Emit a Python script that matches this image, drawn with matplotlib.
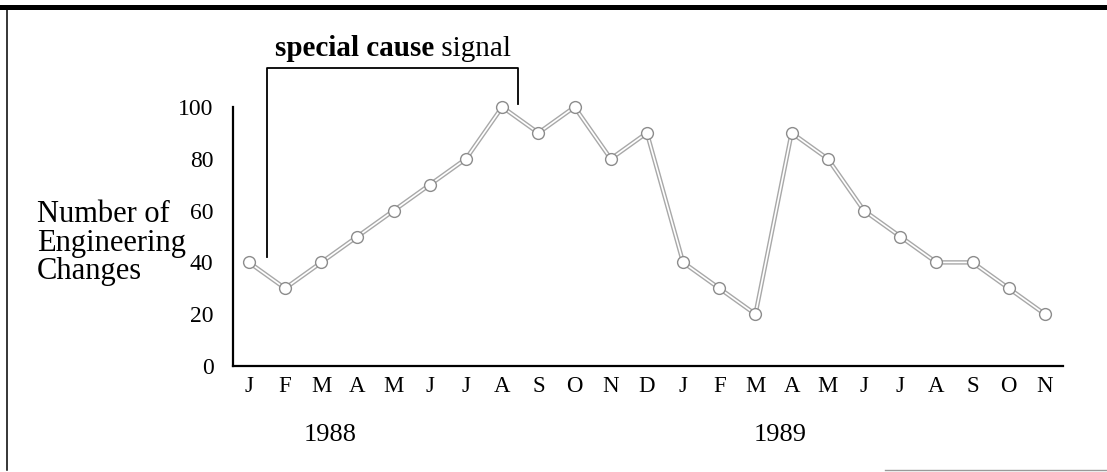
import matplotlib.pyplot as plt
from matplotlib.lines import Line2D

plt.rcParams['font.family'] = ['Liberation Serif', 'DejaVu Serif']

# monthly counts of engineering changes, Jan 1988 .. Nov 1989
months = ['J', 'F', 'M', 'A', 'M', 'J', 'J', 'A', 'S', 'O', 'N', 'D',
          'J', 'F', 'M', 'A', 'M', 'J', 'J', 'A', 'S', 'O', 'N']
changes = [40, 30, 40, 50, 60, 70, 80, 100, 90, 100, 80, 90,
           40, 30, 20, 90, 80, 60, 50, 40, 40, 30, 20]
years = ['1988', '1989']
yticks = [0, 20, 40, 60, 80, 100]

W, H = 1107, 472
fig = plt.figure(figsize=(W / 100, H / 100), dpi=100)
ax = fig.add_axes([233 / W, 1 - 366 / H, (1063 - 233) / W, (366 - 107) / H])

x = list(range(len(changes)))
# hollow "double" line: wide grey stroke with a white core
ax.plot(x, changes, color='#a8a8a8', lw=3.2, solid_capstyle='round',
        zorder=2, clip_on=False)
ax.plot(x, changes, color='white', lw=1.2, zorder=3, clip_on=False)
ax.plot(x, changes, ls='none', marker='o', ms=8.5, mfc='white',
        mec='#8c8c8c', mew=1.0, zorder=4, clip_on=False)

ax.set_xlim(-0.44, 22.5)
ax.set_ylim(0, 100)
ax.set_yticks(yticks)
ax.set_yticklabels([str(v) for v in yticks], fontsize=17)
ax.set_xticks(x)
ax.set_xticklabels(months, fontsize=16.5)
ax.tick_params(axis='both', length=0)
ax.tick_params(axis='y', pad=14)
ax.tick_params(axis='x', pad=7)
for side in ('top', 'right'):
    ax.spines[side].set_visible(False)
for side in ('left', 'bottom'):
    ax.spines[side].set_linewidth(1.6)

# bracket marking the run that signals a special cause
br_left, br_right, br_top = 0.5, 7.45, 115
ax.plot([br_left, br_left, br_right, br_right], [42, br_top, br_top, 101],
        color='black', lw=1.3, clip_on=False)

t = fig.text(275 / W, 1 - 62 / H, 'special cause', fontsize=21,
             fontweight='bold', va='bottom')
ax.annotate(' signal', xy=(1, 0), xycoords=t, fontsize=21, va='bottom',
            ha='left', annotation_clip=False)

fig.text(37 / W, 1 - 243 / H, 'Number of\nEngineering\nChanges',
         fontsize=22, ha='left', va='center', linespacing=0.98)

# year labels under the month letters
fig.text(330 / W, 1 - 435 / H, years[0], fontsize=19, ha='center', va='center')
fig.text(780 / W, 1 - 435 / H, years[1], fontsize=19, ha='center', va='center')

# page frame
fig.add_artist(Line2D([0, 1], [1 - 6.5 / H] * 2, color='black', lw=3.6))
fig.add_artist(Line2D([6.5 / W] * 2, [1 - 7 / H, 1 - 470 / H],
                      color='black', lw=1.1))
fig.add_artist(Line2D([885 / W, 1], [1 - 470 / H] * 2, color='#9a9a9a', lw=1.0))

fig.savefig('out.png', dpi=100)
